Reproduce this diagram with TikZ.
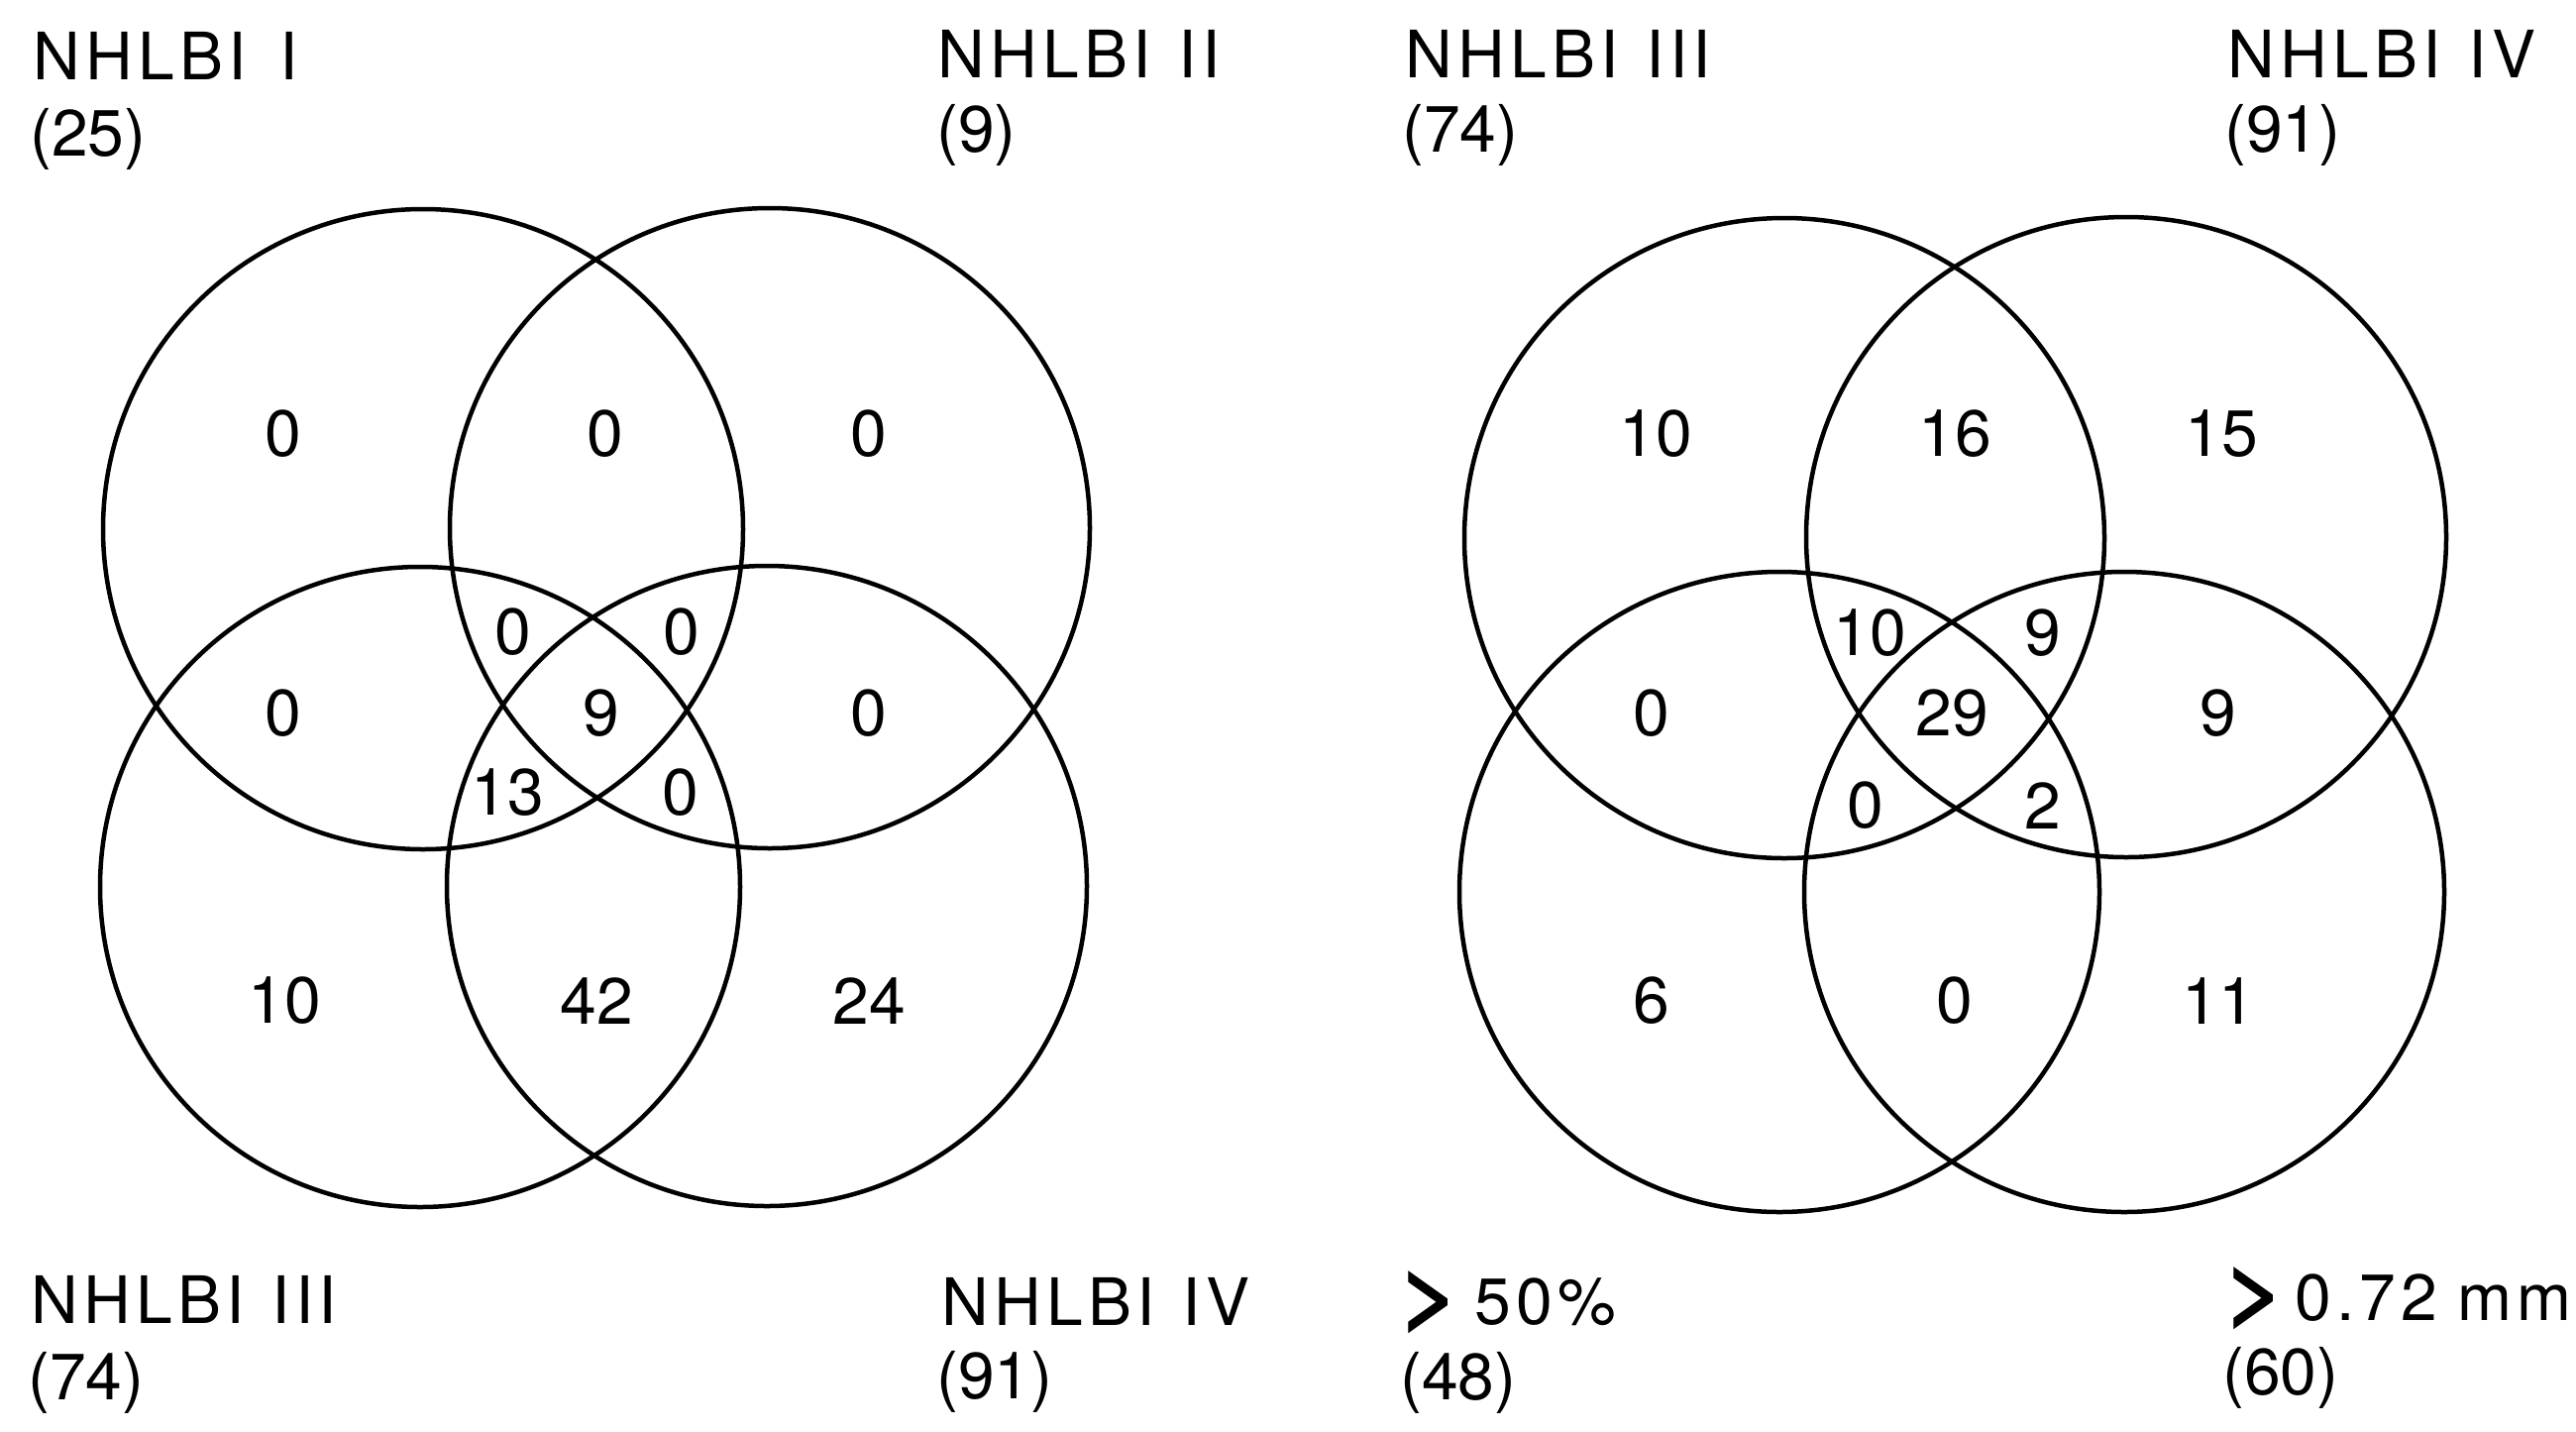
\documentclass[tikz,border=0pt]{standalone}
\usepackage{fontspec}
\setmainfont{TeX Gyre Heros}
\newfontfamily\lblfamily[LetterSpace=8]{TeX Gyre Heros}
\newcommand{\numfnt}{\fontsize{66pt}{77pt}\selectfont}
\newcommand{\lblfnt}{\lblfamily\fontsize{66pt}{77pt}\selectfont}
\newcommand{\bigger}{\scalebox{1.6}[1.35]{\textbf{>}}}
\begin{document}
\begin{tikzpicture}[x=1pt,y=-1pt,
  vcirc/.style={line width=4.5pt},
  num/.style={inner sep=0pt, font=\numfnt},
  lbl/.style={inner sep=0pt, anchor=base west, font=\lblfnt},
  cnt/.style={inner sep=0pt, anchor=base west, font=\numfnt}]
\useasboundingbox (0,0) rectangle (2600,1444);
\fill[white] (0,0) rectangle (2600,1444);
% left diagram circles
\coordinate (A1) at (427,534);
\coordinate (A2) at (777,533);
\coordinate (A3) at (424,895);
\coordinate (A4) at (774,894);
\draw[vcirc] (A1) circle[radius=323pt];
\draw[vcirc] (A2) circle[radius=323pt];
\draw[vcirc] (A3) circle[radius=323pt];
\draw[vcirc] (A4) circle[radius=323pt];
% right diagram circles
\coordinate (B1) at (1801,543);
\coordinate (B2) at (2146,542);
\coordinate (B3) at (1796,900);
\coordinate (B4) at (2144,900);
\draw[vcirc] (B1) circle[radius=323pt];
\draw[vcirc] (B2) circle[radius=323pt];
\draw[vcirc] (B3) circle[radius=323pt];
\draw[vcirc] (B4) circle[radius=323pt];
% left diagram numbers
\node[num] (a1) at (286,438) {0};
\node[num] (a2) at (611,438) {0};
\node[num] (a3) at (877,438) {0};
\node[num] (a4) at (286,720) {0};
\node[num] (a5) at (518,638) {0};
\node[num] (a6) at (688,638) {0};
\node[num] (a7) at (607,720) {9};
\node[num] (a8) at (877,720) {0};
\node[num] (a9) at (512,800) {13};
\node[num] (a10) at (687,800) {0};
\node[num] (a11) at (287,1010) {10};
\node[num] (a12) at (602,1010) {42};
\node[num] (a13) at (877,1010) {24};
% right diagram numbers
\node[num] (b1) at (1671,438) {10};
\node[num] (b2) at (1973,438) {16};
\node[num] (b3) at (2242,438) {15};
\node[num] (b4) at (1667,720) {0};
\node[num] (b5) at (1887,639) {10};
\node[num] (b6) at (2062,639) {9};
\node[num] (b7) at (1970,720) {29};
\node[num] (b8) at (2239,720) {9};
\node[num] (b9) at (1883,813) {0};
\node[num] (b10) at (2062,813) {2};
\node[num] (b11) at (1667,1010) {6};
\node[num] (b12) at (1973,1010) {0};
\node[num] (b13) at (2239,1010) {11};
% labels top
\node[lbl] (l1) at (33,80) {NHLBI\hspace{34pt}I};
\node[cnt] (c1) at (30,157) {(25)};
\node[lbl] (l2) at (946,78) {NHLBI\hspace{28pt}II};
\node[cnt] (c2) at (945,153) {(9)};
\node[lbl] (l3) at (1418,78) {NHLBI\hspace{28pt}III};
\node[cnt] (c3) at (1415,153) {(74)};
\node[lbl] (l4) at (2248,78) {NHLBI\hspace{28pt}IV};
\node[cnt] (c4) at (2245,153) {(91)};
% labels bottom
\node[lbl] (l5) at (31,1335) {NHLBI\hspace{28pt}III};
\node[cnt] (c5) at (28,1412) {(74)};
\node[lbl] (l6) at (950,1337) {NHLBI\hspace{28pt}IV};
\node[cnt] (c6) at (945,1411) {(91)};
\node[lbl] (l7) at (1412,1336) {\makebox[76pt][l]{\bigger}50\%};
\node[cnt] (c7) at (1413,1412) {(48)};
\node[lbl] (l8) at (2245,1332) {\makebox[71pt][l]{\bigger}0.72\hspace{20pt}{\numfnt mm}};
\node[cnt] (c8) at (2243,1407) {(60)};
\end{tikzpicture}
\end{document}
